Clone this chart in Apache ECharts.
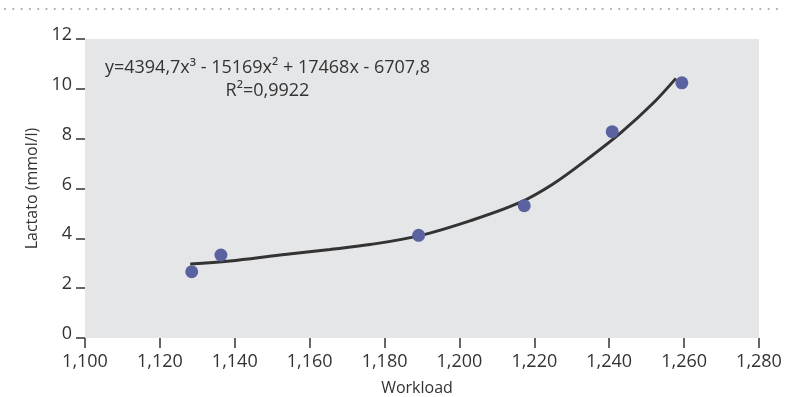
<!DOCTYPE html>
<html>
<head>
<meta charset="utf-8">
<script src="https://cdn.jsdelivr.net/npm/echarts@6/dist/echarts.min.js"></script>
<style>
  html, body { margin: 0; padding: 0; background: #ffffff; }
  #chart { width: 785px; height: 397px; }
</style>
</head>
<body>
<div id="chart"></div>
<script>
// Measured lactate at each workload
const workload = [1128.5, 1136.3, 1189.1, 1217.3, 1240.8, 1259.4];
const lactate  = [2.66, 3.33, 4.12, 5.31, 8.28, 10.24];

// Polynomial trend curve, sampled along its length
const trendX = [1128.1, 1138.7, 1152.1, 1165.4, 1176.1, 1189.5, 1202.8, 1216.2, 1225.0, 1234.1, 1242.9, 1251.7, 1257.8];
const trendY = [2.97, 3.09, 3.33, 3.55, 3.75, 4.11, 4.70, 5.44, 6.18, 7.17, 8.21, 9.42, 10.42];

// Axis settings
const xTicks = { min: 1100, max: 1280, step: 20 };
const yTicks = { min: 0, max: 12, step: 2 };

const equationText = 'y=4394,7x³ - 15169x² + 17468x - 6707,8';
const r2Text = 'R²=0,9922';

const FONT = '"Open Sans", "Noto Sans", sans-serif';
const INK = '#333333';

function thousands(v) {
  return String(Math.round(v)).replace(/\B(?=(\d{3})+(?!\d))/g, ',');
}

const chart = echarts.init(document.getElementById('chart'), null, { renderer: 'canvas' });

chart.setOption({
  animation: false,
  backgroundColor: '#ffffff',
  grid: {
    left: 85, right: 26, top: 39, bottom: 59,
    containLabel: false,
    outerBoundsMode: 'none',
    show: true, backgroundColor: '#e5e6e8', borderWidth: 0
  },
  xAxis: {
    type: 'value',
    min: xTicks.min, max: xTicks.max, interval: xTicks.step,
    name: 'Workload',
    nameLocation: 'middle',
    nameGap: 42,
    nameTextStyle: { fontFamily: FONT, fontSize: 16, color: INK, padding: [0, 10, 0, 0] },
    axisLine: { show: false },
    axisTick: { show: true, length: 10, lineStyle: { color: INK, width: 1.5 } },
    axisLabel: { fontFamily: FONT, fontSize: 18, color: INK, margin: 15, formatter: thousands },
    splitLine: { show: false }
  },
  yAxis: {
    type: 'value',
    min: yTicks.min, max: yTicks.max, interval: yTicks.step,
    name: 'Lactato (mmol/l)',
    nameLocation: 'middle',
    nameGap: 40,
    nameTextStyle: { fontFamily: FONT, fontSize: 16, color: INK },
    axisLine: { show: false },
    axisTick: { show: true, length: 9, lineStyle: { color: INK, width: 1.5 } },
    axisLabel: {
      fontFamily: FONT, fontSize: 18, color: INK, margin: 13,
      verticalAlign: 'bottom', lineHeight: 18, padding: [0, 0, -5, 0]
    },
    splitLine: { show: false }
  },
  graphic: [
    {
      type: 'line',
      shape: { x1: 5, y1: 9, x2: 785, y2: 9 },
      style: { stroke: '#a9a9a9', lineWidth: 2.2, lineCap: 'round', lineDash: [0, 8.3] },
      silent: true
    },
    {
      type: 'text',
      x: 267.5, y: 56,
      style: {
        text: equationText + '\n' + r2Text,
        fontFamily: FONT, fontSize: 18, fill: INK,
        align: 'center', verticalAlign: 'top', lineHeight: 23
      }
    }
  ],
  series: [
    {
      type: 'line',
      data: trendX.map((x, i) => [x, trendY[i]]),
      smooth: 0.35,
      showSymbol: false,
      lineStyle: { color: '#333333', width: 3 },
      z: 2
    },
    {
      type: 'scatter',
      data: workload.map((x, i) => [x, lactate[i]]),
      symbolSize: 13,
      itemStyle: { color: '#5a639f', opacity: 1 },
      z: 3
    }
  ]
});
</script>
</body>
</html>
